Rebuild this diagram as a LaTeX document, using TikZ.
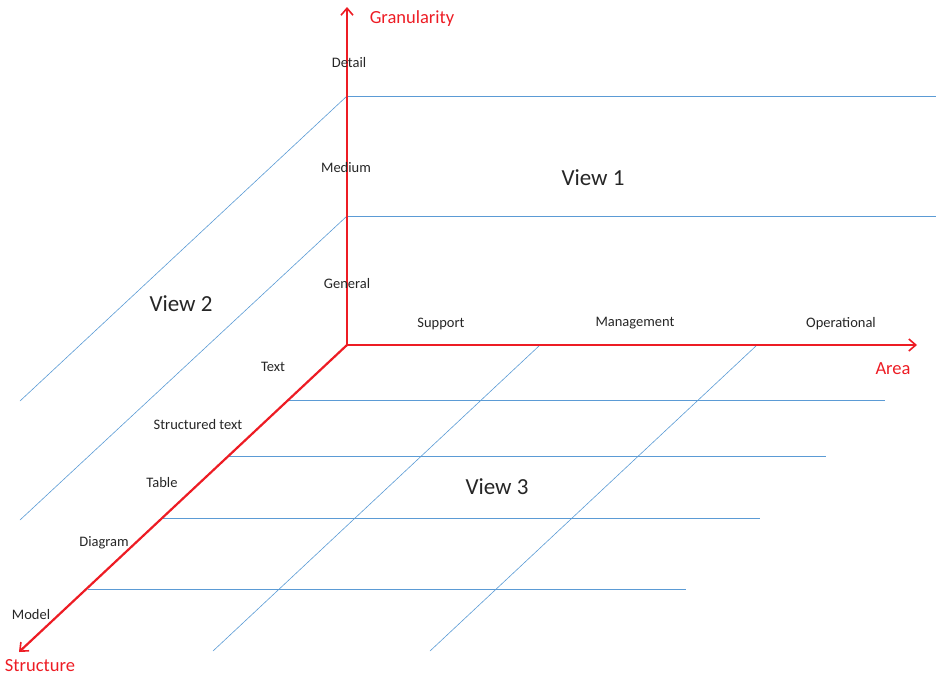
\documentclass[tikz,border=0pt]{standalone}
\usepackage{fontspec}
\setmainfont{Carlito}
\usetikzlibrary{arrows.meta}
\definecolor{axisred}{RGB}{237,28,36}
\definecolor{gridblue}{RGB}{91,155,213}
\tikzset{
  axis/.style={draw=axisred, line width=2.2pt, -{Straight Barb[length=7pt,width=12pt,line width=1.6pt]}},
  grid/.style={draw=gridblue, line width=0.9pt},
  gridthin/.style={draw=gridblue, line width=0.6pt},
  tick/.style={font=\fontsize{14.5}{17}\selectfont, text=black!85, inner sep=0pt, yshift=-1.5pt},
  axislabel/.style={font=\fontsize{18.5}{22}\selectfont, text=axisred, inner sep=0pt, yshift=-1.5pt},
  viewlabel/.style={font=\fontsize{23}{27}\selectfont, text=black!85, inner sep=0pt, yshift=-1pt}
}
\begin{document}
\begin{tikzpicture}[x=1pt, y=-1pt]
\useasboundingbox (0,0) rectangle (936,675);

% axis end points
\coordinate (O) at (347,345);
\coordinate (Gtop) at (347,7);
\coordinate (Aend) at (917,345);
\coordinate (Send) at (19,652);

% back wall (view 1)
\coordinate (w1) at (347,96);  \coordinate (w1r) at (936,96);
\coordinate (w2) at (347,216); \coordinate (w2r) at (936,216);
\draw[grid] (w1) -- (w1r);
\draw[grid] (w2) -- (w2r);

% side wall (view 2)
\coordinate (s1) at (20,401);
\coordinate (s2) at (20,520);
\draw[gridthin] (w1) -- (s1);
\draw[gridthin] (w2) -- (s2);

% floor (view 3): rows
\coordinate (r1l) at (288,400); \coordinate (r1r) at (885,400);
\coordinate (r2l) at (229,456); \coordinate (r2r) at (826,456);
\coordinate (r3l) at (163,518); \coordinate (r3r) at (760,518);
\coordinate (r4l) at (88,589);  \coordinate (r4r) at (686,589);
\draw[grid] (r1l) -- (r1r);
\draw[grid] (r2l) -- (r2r);
\draw[grid] (r3l) -- (r3r);
\draw[grid] (r4l) -- (r4r);

% floor: columns
\coordinate (c1t) at (540,345); \coordinate (c1b) at (213,651);
\coordinate (c2t) at (757,345); \coordinate (c2b) at (430,651);
\draw[gridthin] (c1t) -- (c1b);
\draw[gridthin] (c2t) -- (c2b);

% axes
\draw[axis] (O) -- (Gtop);
\draw[axis] (O) -- (Aend);
\draw[axis] (O) -- (Send);

% axis titles
\node[axislabel] (granularity) at (412,17) {Granularity};
\node[axislabel] (area) at (893,367) {Area};
\node[axislabel] (structure) at (40,664.5) {Structure};

% granularity levels
\node[tick] (detail) at (349,61) {Detail};
\node[tick] (medium) at (346,166) {Medium};
\node[tick] (general) at (347,282) {General};

% area values
\node[tick] (support) at (441,322) {Support};
\node[tick] (management) at (635,322) {Management};
\node[tick] (operational) at (841,322) {Operational};

% structure values
\node[tick] (text) at (273,365) {Text};
\node[tick] (structured) at (198,423) {Structured text};
\node[tick] (table) at (162,481) {Table};
\node[tick] (diagram) at (104,541) {Diagram};
\node[tick] (model) at (31,613) {Model};

% view names
\node[viewlabel] (view1) at (593,177) {View 1};
\node[viewlabel] (view2) at (181,303) {View 2};
\node[viewlabel] (view3) at (497,486) {View 3};
\end{tikzpicture}
\end{document}
